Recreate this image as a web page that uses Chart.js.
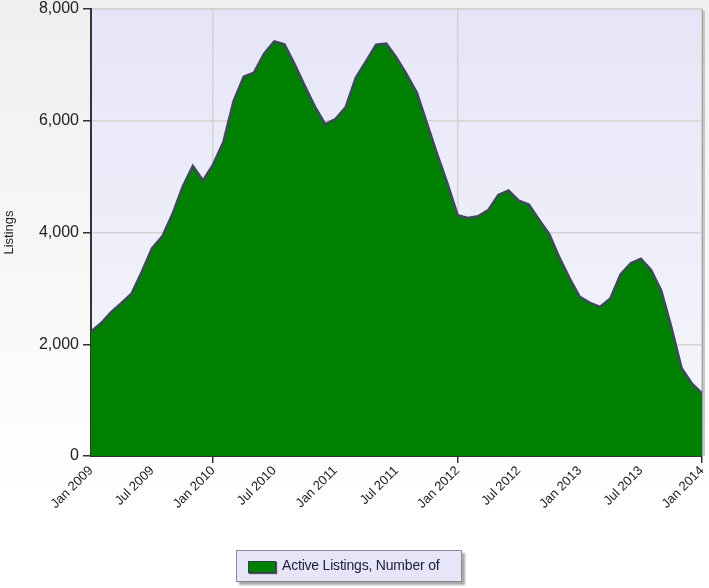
<!DOCTYPE html>
<html>
<head>
<meta charset="utf-8">
<script src="https://cdn.jsdelivr.net/npm/chart.js@4.4.1/dist/chart.umd.min.js"></script>
<style>
  html, body { margin: 0; padding: 0; }
  body { width: 709px; height: 588px; background: linear-gradient(#efefef, #ffffff 85%); font-family: "Liberation Sans", Arial, sans-serif; overflow: hidden; }
  #wrap { position: absolute; left: 0; top: 0; width: 709px; height: 588px; }
  #legend { position: absolute; left: 236px; top: 550px; width: 224px; height: 30px; background: #e6e6f8; border: 1px solid #8a8a96; box-shadow: 3px 3px 2px #a8a8a8; box-sizing: content-box; }
  #legend .sw { position: absolute; left: 11px; top: 10px; width: 26px; height: 10px; background: #008000; border: 1px solid #2f3f4f; box-shadow: 1px 1px 1px #555; }
  #legend .tx { position: absolute; left: 45px; top: 6px; font-size: 14px; color: #1c1c3c; white-space: nowrap; letter-spacing: -0.2px; }
</style>
</head>
<body>
<div id="wrap"><canvas id="c"></canvas></div>
<div id="legend"><div class="sw"></div><div class="tx">Active Listings, Number of</div></div>
<script>
// ---- data ----
const years = [2009, 2010, 2011, 2012, 2013, 2014];
const monthNames = ['Jan','Feb','Mar','Apr','May','Jun','Jul','Aug','Sep','Oct','Nov','Dec'];
const tickLabels = ['Jan 2009','Jul 2009','Jan 2010','Jul 2010','Jan 2011','Jul 2011','Jan 2012','Jul 2012','Jan 2013','Jul 2013','Jan 2014'];
const gridLabels = ['Jan 2010','Jan 2012','Jan 2014'];
const seriesName = 'Active Listings, Number of';
const activeListings = [
  2225, 2380, 2580, 2740, 2910, 3300, 3720, 3930, 4330, 4820, 5190, 4930,
  5220, 5620, 6350, 6790, 6860, 7200, 7420, 7370, 7010, 6620, 6250, 5940,
  6030, 6240, 6770, 7060, 7360, 7380, 7130, 6830, 6500, 5950, 5400, 4880,
  4310, 4260, 4290, 4400, 4670, 4750, 4570, 4500, 4230, 3970, 3550, 3180,
  2850, 2740, 2670, 2820, 3250, 3450, 3530, 3330, 2960, 2300, 1570, 1300,
  1120
];
const yTicks = [0, 2000, 4000, 6000, 8000];

// categories: one per month
const months = [];
years.forEach(y => monthNames.forEach(m => months.push(m + ' ' + y)));
const categories = months.slice(0, activeListings.length);

const plotBg = {
  id: 'plotBg',
  beforeDraw(chart) {
    const {ctx, chartArea: a} = chart;
    ctx.save();
    const g = ctx.createLinearGradient(0, a.top, 0, a.bottom);
    g.addColorStop(0, '#e5e5f7');
    g.addColorStop(1, '#f7f7fd');
    ctx.fillStyle = g;
    ctx.fillRect(a.left, a.top, a.right - a.left, a.bottom - a.top);
    ctx.strokeStyle = '#d6d6d6';
    ctx.lineWidth = 1;
    ctx.beginPath();
    ctx.moveTo(a.left, a.top + 0.5);
    ctx.lineTo(a.right, a.top + 0.5);
    ctx.stroke();
    ctx.restore();
  },
  afterDraw(chart) {
    const {ctx, chartArea: a} = chart;
    ctx.save();
    ctx.strokeStyle = '#a0a0a0';
    ctx.lineWidth = 1;
    ctx.beginPath();
    ctx.moveTo(a.right + 0.5, a.top);
    ctx.lineTo(a.right + 0.5, a.bottom);
    ctx.stroke();
    ctx.strokeStyle = '#c8c8c8';
    ctx.lineWidth = 2;
    ctx.beginPath();
    ctx.moveTo(a.right + 2, a.top + 2);
    ctx.lineTo(a.right + 2, a.bottom);
    ctx.stroke();
    ctx.restore();
  }
};

const isGrid = i => gridLabels.includes(categories[i]);

new Chart(document.getElementById('c'), {
  type: 'line',
  data: {
    labels: categories,
    datasets: [{
      label: seriesName,
      data: activeListings,
      fill: 'origin',
      backgroundColor: '#008000',
      borderColor: '#3c4a5a',
      borderWidth: 2.5,
      pointRadius: 0,
      tension: 0
    }]
  },
  options: {
    responsive: true,
    maintainAspectRatio: false,
    animation: false,
    layout: { padding: { left: 0, right: 7, top: 9, bottom: 0 } },
    plugins: { legend: { display: false }, tooltip: { enabled: false } },
    scales: {
      x: {
        type: 'category',
        offset: false,
        afterFit(scale) { scale.height = 132; scale.paddingLeft = 0; scale.paddingRight = 0; },
        grid: {
          color: c => (isGrid(c.index) ? '#d3d3d3' : 'transparent'),
          tickColor: c => (isGrid(c.index) ? '#333333' : 'transparent'),
          tickLength: 7,
          lineWidth: 1.5
        },
        border: { color: '#333333', width: 2 },
        ticks: {
          autoSkip: false,
          minRotation: 45,
          maxRotation: 45,
          padding: 0,
          color: '#222222',
          font: { family: '"Liberation Sans", Arial, sans-serif', size: 13 },
          callback(v, i) {
            const lbl = categories[i];
            return tickLabels.includes(lbl) ? lbl : '';
          }
        }
      },
      y: {
        min: 0,
        max: 8000,
        afterFit(scale) { scale.width = 91; scale.paddingTop = 0; scale.paddingBottom = 0; },
        afterBuildTicks(scale) { scale.ticks = yTicks.map(v => ({ value: v })); },
        grid: { color: '#d3d3d3', tickColor: '#333333', tickLength: 8, lineWidth: 1.5 },
        border: { color: '#333333', width: 2 },
        title: {
          display: true,
          text: 'Listings',
          color: '#222222',
          font: { family: '"Liberation Sans", Arial, sans-serif', size: 13 },
          padding: { top: 2, bottom: 2 }
        },
        ticks: {
          padding: 4,
          color: '#222222',
          font: { family: '"Liberation Sans", Arial, sans-serif', size: 16 },
          callback: v => v.toLocaleString('en-US')
        }
      }
    }
  },
  plugins: [plotBg]
});
</script>
</body>
</html>
